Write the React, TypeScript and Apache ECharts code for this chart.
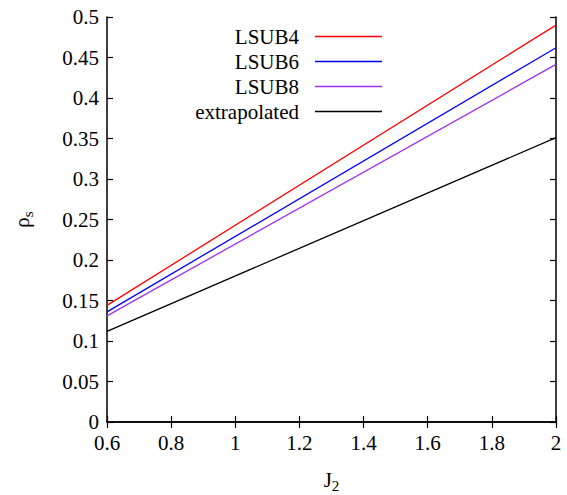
import React, { useEffect, useRef } from "react";
import * as echarts from "echarts";

const j2Values = [0.6, 2.0];
const lsub4 = [0.144, 0.490];
const lsub6 = [0.136, 0.462];
const lsub8 = [0.131, 0.4415];
const extrapolated = [0.112, 0.351];
const seriesNames = ["LSUB4", "LSUB6", "LSUB8", "extrapolated"];
const seriesColors = ["#ff0000", "#0000ff", "#a030f0", "#000000"];

const FONT = "Liberation Serif";
const FS = 21;

export default function App() {
  const ref = useRef<HTMLDivElement>(null);
  useEffect(() => {
    if (!ref.current) return;
    const chart = echarts.init(ref.current, undefined, { renderer: "svg" });
    const all = [lsub4, lsub6, lsub8, extrapolated];
    const axisLine = { show: true, lineStyle: { color: "#000", width: 1.5 } };
    const tick = { show: true, inside: true, length: 6, lineStyle: { color: "#000", width: 1.2 } };
    chart.setOption({
      animation: false,
      grid: { left: 107, right: 11, top: 17, bottom: 73, outerBoundsMode: "none" },
      legend: {
        orient: "vertical",
        align: "right",
        right: 180,
        top: 21,
        itemGap: 4,
        itemWidth: 67,
        itemHeight: 1.5,
        icon: "rect",
        data: seriesNames,
        textStyle: { fontFamily: FONT, fontSize: FS, color: "#000", padding: [0, 11, 0, 0] },
      },
      xAxis: [
        {
          type: "value",
          min: 0.6,
          max: 2,
          interval: 0.2,
          axisLine,
          axisTick: tick,
          splitLine: { show: false },
          axisLabel: { color: "#000", fontFamily: FONT, fontSize: FS, margin: 10, formatter: (v: number) => String(Math.round(v * 10) / 10) },
          name: "{a|J}{b|2}",
          nameLocation: "middle",
          nameGap: 44,
          nameTextStyle: {
            fontFamily: FONT,
            rich: {
              a: { fontFamily: FONT, fontSize: FS, color: "#000" },
              b: { fontFamily: FONT, fontSize: 15, color: "#000", verticalAlign: "bottom", padding: [12, 0, 0, 0] },
            },
          },
        },
        {
          type: "value",
          position: "top",
          min: 0.6,
          max: 2,
          interval: 0.2,
          axisLine,
          axisTick: tick,
          splitLine: { show: false },
          axisLabel: { show: false },
        },
      ],
      yAxis: [
        {
          type: "value",
          min: 0,
          max: 0.5,
          interval: 0.05,
          axisLine,
          axisTick: tick,
          splitLine: { show: false },
          axisLabel: { color: "#000", fontFamily: FONT, fontSize: FS, margin: 8, formatter: (v: number) => String(Math.round(v * 100) / 100) },
          name: "{a|ρ}{b|s}",
          nameLocation: "middle",
          nameGap: 72,
          nameRotate: 90,
          nameTextStyle: {
            fontFamily: FONT,
            rich: {
              a: { fontFamily: FONT, fontSize: FS, color: "#000" },
              b: { fontFamily: FONT, fontSize: 15, color: "#000", padding: [12, 0, 0, 0] },
            },
          },
        },
        {
          type: "value",
          position: "right",
          min: 0,
          max: 0.5,
          interval: 0.05,
          axisLine,
          axisTick: tick,
          splitLine: { show: false },
          axisLabel: { show: false },
        },
      ],
      series: all.map((vals, i) => ({
        name: seriesNames[i],
        type: "line",
        showSymbol: false,
        symbol: "none",
        color: seriesColors[i],
        lineStyle: { color: seriesColors[i], width: 1.3 },
        data: j2Values.map((x, k) => [x, vals[k]]),
      })),
    });
    return () => chart.dispose();
  }, []);
  return (
    <>
      <style>{`#chart-root text, #chart-root tspan { font-family: 'Liberation Serif', serif !important; }`}</style>
      <div id="chart-root" ref={ref} style={{ width: 567, height: 495, position: "absolute", left: 0, top: 0, background: "#fff" }} />
    </>
  );
}
